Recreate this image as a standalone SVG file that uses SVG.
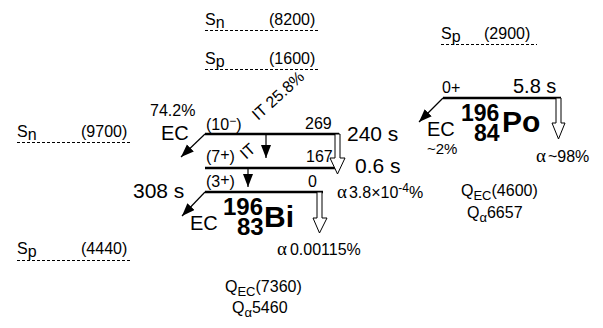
<svg xmlns="http://www.w3.org/2000/svg" width="603" height="328" viewBox="0 0 603 328">
<style>
text{font-family:"Liberation Sans",Arial,sans-serif;fill:#000}
.s{font-size:16px}
.m{font-size:15px}
.L{font-size:21px}
.ec{font-size:20px}
.b{font-weight:bold}
.a{font-family:"Liberation Serif","Times New Roman",serif;font-size:19px}
.lvl{stroke:#000;stroke-width:2.6;fill:none}
.sep{stroke:#000;stroke-width:1;stroke-dasharray:3,2;fill:none}
.ln{stroke:#000;stroke-width:1.2;fill:none}
.hol{fill:#fff;stroke:#000;stroke-width:1}
</style>
<defs>
<marker id="ah" markerUnits="userSpaceOnUse" markerWidth="14" markerHeight="12" refX="13" refY="5" orient="auto">
<path d="M0,0 L13,5 L0,10 z" fill="#000"/>
</marker>
</defs>

<g id="sep-sn-8200">
<text class="s" x="205" y="25">S<tspan dy="3">n</tspan></text>
<text class="s" x="269" y="25">(8200)</text>
<line class="sep" x1="205" y1="30.5" x2="320" y2="30.5"/>
</g>
<g id="sep-sp-1600">
<text class="s" x="205" y="64">S<tspan dy="3">p</tspan></text>
<text class="s" x="269" y="64">(1600)</text>
<line class="sep" x1="205" y1="69.5" x2="320" y2="69.5"/>
</g>
<g id="sep-sp-2900">
<text class="s" x="441" y="39">S<tspan dy="3">p</tspan></text>
<text class="s" x="484" y="39">(2900)</text>
<line class="sep" x1="441" y1="44.5" x2="537" y2="44.5"/>
</g>
<g id="sep-sn-9700">
<text class="s" x="17" y="137">S<tspan dy="3">n</tspan></text>
<text class="s" x="81" y="137">(9700)</text>
<line class="sep" x1="17" y1="142.5" x2="132" y2="142.5"/>
</g>
<g id="sep-sp-4440">
<text class="s" x="17" y="254">S<tspan dy="3">p</tspan></text>
<text class="s" x="81" y="254">(4440)</text>
<line class="sep" x1="17" y1="260.5" x2="132" y2="260.5"/>
</g>

<g id="bi-10">
<line class="lvl" x1="205" y1="134" x2="339" y2="134"/>
<text class="s" x="206" y="130">(10<tspan font-size="12" dy="-5">−</tspan><tspan dy="5">)</tspan></text>
<text class="s" x="305" y="129">269</text>
<text class="L" x="347" y="141">240 s</text>
</g>
<g id="bi-7">
<line class="lvl" x1="205" y1="168" x2="336" y2="168"/>
<text class="s" x="206" y="162">(7<tspan dy="-2">+</tspan><tspan dy="2">)</tspan></text>
<text class="s" x="306" y="162">167</text>
<text class="L" x="355" y="173">0.6 s</text>
</g>
<g id="bi-3">
<line class="lvl" x1="205" y1="192" x2="323" y2="192"/>
<text class="s" x="206" y="187">(3<tspan dy="-2">+</tspan><tspan dy="2">)</tspan></text>
<text class="s" x="308" y="187">0</text>
<text class="L" x="133" y="198">308 s</text>
<text class="b" font-size="24" x="223" y="215">196</text>
<text class="b" font-size="24" x="237" y="235">83</text>
<text class="b" font-size="30" x="264" y="227">Bi</text>
</g>
<g id="po-0">
<line class="lvl" x1="443" y1="98" x2="561" y2="98"/>
<text class="s" x="442" y="93">0+</text>
<text class="ec" x="513" y="93">5.8 s</text>
<text class="b" font-size="23" x="461" y="121">196</text>
<text class="b" font-size="23" x="474" y="141">84</text>
<text class="b" font-size="30" x="502" y="132">Po</text>
</g>

<g id="labels">
<text class="s" x="150" y="116">74.2%</text>
<text class="ec" x="161" y="140">EC</text>
<text class="ec" x="190" y="230">EC</text>
<text class="ec" x="427" y="136">EC</text>
<text class="m" x="427" y="154">~2%</text>
<text class="s" transform="translate(258,121) rotate(-42)">IT 25.8%</text>
<text class="s" transform="translate(246,160) rotate(-42)">IT</text>
<text x="337" y="198"><tspan class="a">α</tspan><tspan class="s" dx="2">3.8×10</tspan><tspan font-size="12" dy="-6">-4</tspan><tspan class="s" dy="6">%</tspan></text>
<text x="277" y="255"><tspan class="a">α</tspan><tspan class="s" dx="3">0.00115%</tspan></text>
<text x="536" y="162"><tspan class="a">α</tspan><tspan class="s" dx="2">~98%</tspan></text>
<text class="s" x="225" y="292">Q<tspan font-size="13" dy="4">EC</tspan><tspan dy="-4">(7360)</tspan></text>
<text class="s" x="232" y="313">Q<tspan font-size="13" dy="4">α</tspan><tspan dy="-4">5460</tspan></text>
<text class="s" x="461" y="196">Q<tspan font-size="13" dy="4">EC</tspan><tspan dy="-4">(4600)</tspan></text>
<text class="s" x="467" y="218">Q<tspan font-size="13" dy="4">α</tspan><tspan dy="-4">6657</tspan></text>
</g>

<g id="connectors">
<line class="ln" x1="205" y1="134" x2="181" y2="157" marker-end="url(#ah)"/>
<line class="ln" x1="205" y1="192" x2="182" y2="216" marker-end="url(#ah)"/>
<line class="ln" x1="443" y1="98" x2="419" y2="122" marker-end="url(#ah)"/>
<line class="ln" x1="266" y1="134" x2="266" y2="158" marker-end="url(#ah)"/>
<line class="ln" x1="248" y1="168" x2="248" y2="187" marker-end="url(#ah)"/>
<path class="hol" d="M335,134 V158 H330 L337.5,174 L345,158 H340 V134 Z"/>
<path class="hol" d="M317,192 V218 H313 L319.5,233 L327,218 H322 V192 Z"/>
<path class="hol" d="M556,98 V123 H552 L558.5,139 L565,123 H561 V98 Z"/>
</g>
</svg>
